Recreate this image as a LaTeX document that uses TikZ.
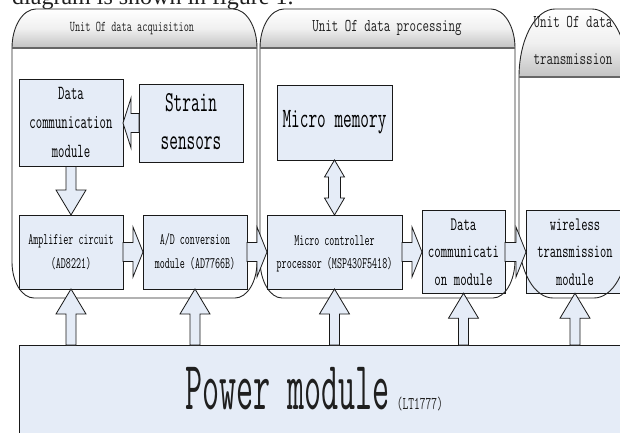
\documentclass[tikz,border=0pt]{standalone}
\usepackage{fontspec}
\usepackage{graphicx}
\newfontfamily\bodyserif{Liberation Serif}
\usetikzlibrary{calc}

\definecolor{boxfill}{RGB}{229,236,247}
\definecolor{edge}{RGB}{25,25,25}

% condensed typewriter text: \sqz{x-factor}{size}{text}
\newcommand\sqz[3]{\scalebox{#1}[1]{\fontsize{#2}{#2}\selectfont\ttfamily #3}}
% multi-line version: \sqzm{x-factor}{size}{line skip}{lines}
\newcommand\sqzm[4]{\scalebox{#1}[1]{\fontsize{#2}{#3}\selectfont\ttfamily\begin{tabular}{@{}c@{}}#4\end{tabular}}}

% unit frame: L, R, top, header line, bottom, top rx, top ry, bottom rx, bottom ry
\newcommand\unitframe[9]{%
  \shade[top color=white, bottom color=black!24, middle color=black!6]
    (#1,#4) .. controls (#1,{#4+0.55*#7}) and ({#1+0.45*#6},#3) .. ({#1+#6},#3)
    -- ({#2-#6},#3) .. controls ({#2-0.45*#6},#3) and (#2,{#4+0.55*#7}) .. (#2,#4) -- cycle;
  \draw[frameline]
    (#1,#4) -- (#1,{#5+#9}) .. controls (#1,{#5+0.45*#9}) and ({#1+0.45*#8},#5) .. ({#1+#8},#5)
    -- ({#2-#8},#5) .. controls ({#2-0.45*#8},#5) and (#2,{#5+0.45*#9}) .. (#2,{#5+#9})
    -- (#2,#4) .. controls (#2,{#4+0.55*#7}) and ({#2-0.45*#6},#3) .. ({#2-#6},#3)
    -- ({#1+#6},#3) .. controls ({#1+0.45*#6},#3) and (#1,{#4+0.55*#7}) .. (#1,#4) -- cycle;
  \draw[sepline] (#1,#4) -- (#2,#4);
}

\tikzset{
  module/.style={draw=edge, line width=0.8pt, fill=boxfill, inner sep=0pt, outer sep=0pt},
  caption/.style={inner sep=0pt, text=black!88},
  frameline/.style={draw=black!85, line width=0.9pt},
  sepline/.style={draw=black!60, line width=1.4pt},
  arrowbody/.style={draw=edge, fill=boxfill, line width=0.8pt, line join=miter},
  along/.style={shift={(\p1)}, rotate=\n1},
  % block arrow: shaft half width, head half width, head length
  fatarrow/.style n args={3}{to path={
    let \p1=(\tikztostart), \p2=(\tikztotarget),
        \n1={atan2(\y2-\y1,\x2-\x1)}, \n2={veclen(\x2-\x1,\y2-\y1)} in
    ([along]0,-#1) -- ([along]\n2-#3,-#1) -- ([along]\n2-#3,-#2) -- ([along]\n2,0)
    -- ([along]\n2-#3,#2) -- ([along]\n2-#3,#1) -- ([along]0,#1) -- cycle}},
  % block arrow with a head at both ends
  dfatarrow/.style n args={3}{to path={
    let \p1=(\tikztostart), \p2=(\tikztotarget),
        \n1={atan2(\y2-\y1,\x2-\x1)}, \n2={veclen(\x2-\x1,\y2-\y1)} in
    ([along]0,0) -- ([along]#3,#2) -- ([along]#3,#1) -- ([along]\n2-#3,#1)
    -- ([along]\n2-#3,#2) -- ([along]\n2,0) -- ([along]\n2-#3,-#2) -- ([along]\n2-#3,-#1)
    -- ([along]#3,-#1) -- ([along]#3,-#2) -- cycle}},
  hflow/.style={fatarrow={9.5}{25}{10}},
  vflow/.style={fatarrow={5}{15}{25}},
}

\begin{document}
\begin{tikzpicture}[x=1pt, y=1pt]
\useasboundingbox (0,0) rectangle (620,432);

% running text above the figure
\node[caption, anchor=base west] (runtext) at (12,427)
  {\bodyserif\fontsize{24}{24}\selectfont diagram is shown in figure 1.};

% power supply
\node[module, minimum width=611pt, minimum height=95pt] (power) at (324.5,39.5) {};
\node[caption, anchor=base west] (powertext) at (185,23)
  {\sqz{0.48}{69}{Power module}\hspace{7pt}\sqz{0.62}{18}{(LT1777)}};

% acquisition modules
\node[module, minimum width=104pt, minimum height=74pt] (dcA) at (71,309)
  {\sqzm{0.62}{20}{29}{Data\\communication\\module}};
\node[module, minimum width=104pt, minimum height=78pt] (strain) at (191,309)
  {\sqzm{0.58}{29}{38}{Strain\\sensors}};
\node[module, minimum width=104pt, minimum height=74pt] (amp) at (71,180)
  {\sqzm{0.61}{16}{24}{Amplifier circuit\\(AD8221)}};
\node[module, minimum width=104pt, minimum height=74pt] (adc) at (195,180)
  {\sqzm{0.61}{16}{24}{A/D conversion\\module (AD7766B)}};

% processing modules
\node[module, minimum width=115pt, minimum height=75pt] (mem) at (334.5,309.5)
  {\sqz{0.6}{28}{Micro memory}};
\node[module, minimum width=135pt, minimum height=74pt] (mcu) at (334.5,180)
  {\sqzm{0.61}{16}{23}{Micro controller\\processor (MSP430F5418)}};
\node[module, minimum width=83pt, minimum height=74pt] (dcB) at (463.5,180)
  {\sqzm{0.66}{19}{27.5}{Data\\communicati\\on module}};

% transmission module
\node[module, minimum width=98pt, minimum height=74pt] (wls) at (575,180)
  {\sqzm{0.64}{19}{27.5}{wireless\\transmission\\module}};

% unit frames with shaded title bars
\unitframe{12}{257}{423}{384}{134}{24}{39}{22}{36}
\unitframe{260}{515}{423}{384}{134}{24}{39}{22}{38}
\unitframe{519}{628}{423}{355}{134}{36}{68}{34}{60}
\node[caption] (unitA) at (132,404) {\sqz{0.67}{15}{Unit Of data acquisition}};
\node[caption] (unitB) at (387,404) {\sqz{0.70}{18}{Unit Of data processing}};
\node[caption] (unitC) at (573,393) {\sqzm{0.71}{18}{37}{Unit Of data\\transmission}};

% signal flow
\draw[arrowbody, fatarrow={9.5}{25}{8}] (strain.west) to (dcA.east);
\draw[arrowbody, vflow] (dcA.south) to (amp.north);
\draw[arrowbody, hflow] (amp.east) to (adc.west);
\draw[arrowbody, hflow] (adc.east) to (mcu.west);
\draw[arrowbody, hflow] (mcu.east) to (dcB.west);
\draw[arrowbody, hflow] (dcB.east) to (wls.west);
\draw[arrowbody, dfatarrow={6}{10}{17}] (mem.south) to (mcu.north);

% power feeds
\coordinate (pA) at (power.north -| amp.south);
\coordinate (pB) at (power.north -| adc.south);
\coordinate (pC) at (power.north -| mcu.south);
\coordinate (pD) at (power.north -| dcB.south);
\coordinate (pE) at (power.north -| wls.south);
\draw[arrowbody, vflow] (pA) to (amp.south);
\draw[arrowbody, vflow] (pB) to (adc.south);
\draw[arrowbody, vflow] (pC) to (mcu.south);
\draw[arrowbody, vflow] (pD) to (dcB.south);
\draw[arrowbody, vflow] (pE) to (wls.south);
\end{tikzpicture}
\end{document}
